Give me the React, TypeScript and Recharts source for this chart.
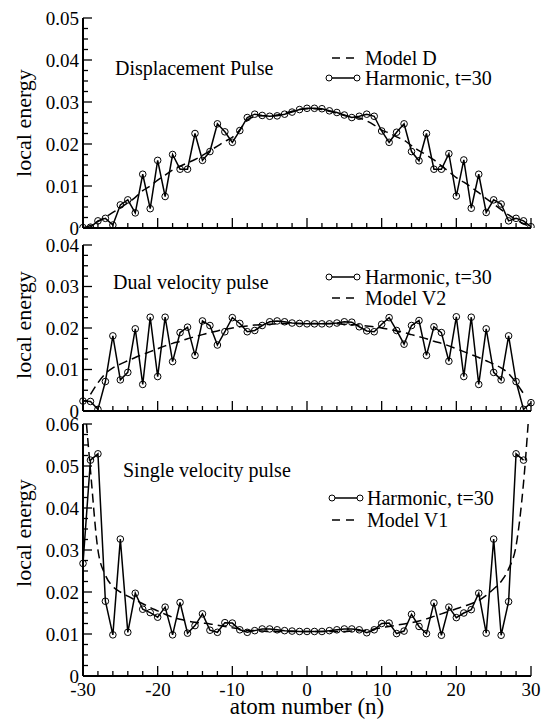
import { useState } from 'react';
import { createPortal } from 'react-dom';
import { Line, LineChart, XAxis, YAxis } from 'recharts';

const atomNumbers = [
  -30, -29, -28, -27, -26, -25, -24, -23, -22, -21, -20, -19, -18, -17, -16, -15, -14, -13, -12, -11, -10,
  -9, -8, -7, -6, -5, -4, -3, -2, -1, 0, 1, 2, 3, 4, 5, 6, 7, 8, 9, 10, 11, 12, 13, 14, 15, 16, 17, 18, 19,
  20, 21, 22, 23, 24, 25, 26, 27, 28, 29, 30,
];

// displacement pulse
const harmonicD = [
  0.0001, 0.0002, 0.0017, 0.0023, 0.0007, 0.0055, 0.0067, 0.0036, 0.0128, 0.0046, 0.0161, 0.0075, 0.0175,
  0.014, 0.014, 0.0225, 0.0161, 0.0182, 0.0248, 0.0229, 0.0204, 0.0232, 0.0263, 0.0271, 0.0268, 0.0266,
  0.0267, 0.0271, 0.0276, 0.0282, 0.0285, 0.0285, 0.0284, 0.0279, 0.0275, 0.0269, 0.0263, 0.0266, 0.0271,
  0.0266, 0.0231, 0.0204, 0.0228, 0.0248, 0.0182, 0.016, 0.0225, 0.014, 0.014, 0.0177, 0.0076, 0.0162,
  0.0047, 0.0128, 0.0037, 0.0067, 0.0057, 0.0017, 0.0023, 0.0017, 0.0003,
];
const modelD = [
  0.0, 0.0006, 0.0015, 0.0026, 0.0037, 0.0048, 0.006, 0.0073, 0.0089, 0.01, 0.0114, 0.0126, 0.0138, 0.0147,
  0.0155, 0.0163, 0.0173, 0.0184, 0.0195, 0.0206, 0.0216, 0.0234, 0.0257, 0.0265, 0.0267, 0.0267, 0.0269,
  0.0273, 0.0278, 0.0282, 0.0284, 0.0284, 0.0282, 0.0278, 0.0273, 0.0268, 0.0264, 0.0262, 0.0255, 0.0245,
  0.0233, 0.0226, 0.0217, 0.0209, 0.0196, 0.0184, 0.0174, 0.0162, 0.0148, 0.0134, 0.012, 0.0109, 0.0097,
  0.0084, 0.007, 0.0057, 0.0044, 0.0031, 0.002, 0.001, 0.0003,
];

// dual velocity pulse
const harmonicV2 = [
  0.0024, 0.0023, 0.0004, 0.0071, 0.0181, 0.0075, 0.0093, 0.0198, 0.0064, 0.0226, 0.0083, 0.0226, 0.0119,
  0.0189, 0.0202, 0.0134, 0.0217, 0.0206, 0.0159, 0.0191, 0.0225, 0.0211, 0.0191, 0.0194, 0.0206, 0.0215,
  0.0217, 0.0215, 0.0212, 0.0211, 0.021, 0.021, 0.021, 0.021, 0.0212, 0.0215, 0.0214, 0.0203, 0.0193,
  0.0191, 0.0209, 0.0225, 0.0194, 0.0161, 0.0206, 0.0218, 0.0134, 0.0203, 0.0189, 0.012, 0.0227, 0.0083,
  0.0226, 0.0064, 0.0198, 0.0093, 0.0075, 0.0181, 0.0071, 0.0004, 0.002,
];
const modelV2 = [
  null, 0.004, 0.0068, 0.009, 0.0104, 0.0113, 0.0121, 0.0129, 0.0136, 0.0143, 0.015, 0.0157, 0.0163,
  0.0168, 0.0174, 0.0179, 0.0184, 0.0189, 0.0193, 0.0197, 0.02, 0.0203, 0.0205, 0.0207, 0.0208, 0.0209,
  0.021, 0.0211, 0.0211, 0.0211, 0.0211, 0.0211, 0.0211, 0.0211, 0.021, 0.0209, 0.0208, 0.0207, 0.0205,
  0.0203, 0.02, 0.0197, 0.0193, 0.0189, 0.0184, 0.0179, 0.0174, 0.0168, 0.0163, 0.0157, 0.015, 0.0143,
  0.0136, 0.0129, 0.0121, 0.0113, 0.0104, 0.009, 0.0068, 0.0042, null,
];

// single velocity pulse
const harmonicV1 = [
  0.0268, 0.0514, 0.0529, 0.0178, 0.0098, 0.0326, 0.0104, 0.0197, 0.0159, 0.0151, 0.014, 0.0164, 0.0098,
  0.0175, 0.0102, 0.012, 0.0148, 0.0109, 0.0104, 0.0127, 0.0126, 0.011, 0.0104, 0.0108, 0.0112, 0.0112,
  0.011, 0.0108, 0.0107, 0.0106, 0.0106, 0.0106, 0.0106, 0.0108, 0.011, 0.0112, 0.0112, 0.011, 0.0103,
  0.011, 0.0125, 0.0126, 0.0101, 0.0107, 0.0147, 0.0118, 0.0101, 0.0174, 0.0097, 0.0164, 0.0139, 0.015,
  0.0158, 0.0197, 0.0102, 0.0326, 0.0097, 0.0177, 0.0529, 0.0514, null,
];
const modelV1 = [
  0.07, 0.049, 0.03, 0.024, 0.0213, 0.02, 0.019, 0.0181, 0.0172, 0.0163, 0.0155, 0.0147, 0.014, 0.0135,
  0.0131, 0.0128, 0.0126, 0.0124, 0.0121, 0.0118, 0.0115, 0.0112, 0.0109, 0.0108, 0.0107, 0.0106, 0.0106,
  0.0106, 0.0106, 0.0106, 0.0106, 0.0106, 0.0106, 0.0106, 0.0106, 0.0106, 0.0107, 0.0108, 0.0109, 0.0112,
  0.0115, 0.0118, 0.0121, 0.0124, 0.0127, 0.0131, 0.0136, 0.0142, 0.0148, 0.0154, 0.016, 0.0166, 0.0172,
  0.018, 0.0192, 0.0207, 0.0225, 0.0255, 0.031, 0.046, 0.07,
];

const xTicks = [
  -30, -28, -26, -24, -22, -20, -18, -16, -14, -12, -10, -8, -6, -4, -2, 0, 2, 4, 6, 8, 10, 12, 14, 16, 18,
  20, 22, 24, 26, 28, 30,
];
const yTicks04 = [
  0, 0.0025, 0.005, 0.0075, 0.01, 0.0125, 0.015, 0.0175, 0.02, 0.0225, 0.025, 0.0275, 0.03, 0.0325, 0.035,
  0.0375, 0.04,
];
const yTicks05 = [...yTicks04, 0.0425, 0.045, 0.0475, 0.05];
const yTicks06 = [...yTicks05, 0.0525, 0.055, 0.0575, 0.06];

// serif only survives up to 16px here, so text is set at 16px and scaled up
const FONT = "'Liberation Serif', 'Times New Roman', serif";
const BASE = 16;
const W = 546;
const LEFT = 83;
const RIGHT = 531;

const build = (a: (number | null)[], b: (number | null)[]) =>
  atomNumbers.map((n, i) => ({ n, harmonic: a[i], model: b[i] }));

const isMajorY = (v: number) => Math.abs(v * 100 - Math.round(v * 100)) < 1e-6;
const isMajorX = (v: number) => v % 10 === 0;
const fmtY = (v: number) => (v === 0 ? '0' : v.toFixed(2));

type Anchor = 'start' | 'middle' | 'end';

function Txt({
  x,
  y,
  size = 20,
  anchor = 'start',
  w = 220,
  rotate,
  children,
}: {
  x: number;
  y: number;
  size?: number;
  anchor?: Anchor;
  w?: number;
  rotate?: boolean;
  children: React.ReactNode;
}) {
  const h = Math.round(size * 1.1);
  const k = size / BASE;
  const left = anchor === 'start' ? x : anchor === 'end' ? x - w : x - w / 2;
  const align = anchor === 'start' ? 'left' : anchor === 'end' ? 'right' : 'center';
  return (
    <div
      style={{
        position: 'absolute',
        left,
        top: y - h / 2,
        width: w,
        height: h,
        transform: rotate ? 'rotate(-90deg)' : undefined,
      }}
    >
      <div
        style={{
          width: w / k,
          height: h / k,
          lineHeight: `${h / k}px`,
          fontFamily: FONT,
          fontSize: BASE,
          textAlign: align,
          whiteSpace: 'nowrap',
          color: '#000',
          transform: `scale(${k})`,
          transformOrigin: 'left top',
        }}
      >
        {children}
      </div>
    </div>
  );
}

type TickProps = { x?: number; y?: number; payload?: { value: number }; host: HTMLDivElement | null; top: number };

function LeftTick({ x = 0, y = 0, payload, host, top }: TickProps) {
  const v = payload?.value ?? 0;
  const major = isMajorY(v);
  return (
    <g>
      <line x1={x} x2={x + (major ? 9 : 5)} y1={y} y2={y} stroke="#000" strokeWidth={1.3} />
      {major &&
        host &&
        createPortal(
          <Txt x={x - 4} y={top + y} size={19} anchor="end" w={60}>
            {fmtY(v)}
          </Txt>,
          host,
        )}
    </g>
  );
}

function RightTick({ x = 0, y = 0, payload }: TickProps) {
  const major = isMajorY(payload?.value ?? 0);
  return <line x1={x} x2={x - (major ? 9 : 5)} y1={y} y2={y} stroke="#000" strokeWidth={1.3} />;
}

function TopTick({ x = 0, y = 0, payload }: TickProps) {
  const major = isMajorX(payload?.value ?? 1);
  return <line x1={x} x2={x} y1={y} y2={y + (major ? 10 : 5)} stroke="#000" strokeWidth={1.3} />;
}

function BottomTick({ x = 0, y = 0, payload, host, top, labels }: TickProps & { labels?: boolean }) {
  const v = payload?.value ?? 1;
  const major = isMajorX(v);
  return (
    <g>
      <line x1={x} x2={x} y1={y} y2={y - (major ? 10 : 5)} stroke="#000" strokeWidth={1.3} />
      {labels &&
        major &&
        host &&
        createPortal(
          <Txt x={x} y={top + y + 13} size={19} anchor="middle" w={60}>
            {v}
          </Txt>,
          host,
        )}
    </g>
  );
}

const frame = { stroke: '#000', strokeWidth: 2 };

function HarmonicSample({ x, y }: { x: number; y: number }) {
  return (
    <g>
      <line x1={x} x2={x + 28} y1={y} y2={y} stroke="#000" strokeWidth={1.5} />
      <circle cx={x} cy={y} r={3} fill="#fff" stroke="#000" strokeWidth={1} />
      <circle cx={x + 28} cy={y} r={3} fill="#fff" stroke="#000" strokeWidth={1} />
    </g>
  );
}

function ModelSample({ x, y }: { x: number; y: number }) {
  return <line x1={x} x2={x + 22} y1={y} y2={y} stroke="#000" strokeWidth={1.5} strokeDasharray="8 6" />;
}

type PanelProps = {
  top: number;
  height: number;
  marginTop: number;
  bottomHeight: number;
  yMax: number;
  yTicks: number[];
  data: { n: number; harmonic: number | null; model: number | null }[];
  host: HTMLDivElement | null;
  xLabels?: boolean;
  children?: React.ReactNode;
};

function Panel({ top, height, marginTop, bottomHeight, yMax, yTicks, data, host, xLabels, children }: PanelProps) {
  return (
    <div style={{ position: 'absolute', left: 0, top }}>
      <LineChart
        width={W}
        height={height}
        data={data}
        margin={{ top: marginTop, right: W - RIGHT, bottom: 0, left: 0 }}
      >
        <XAxis
          dataKey="n"
          type="number"
          domain={[-30, 30]}
          ticks={xTicks}
          interval={0}
          height={bottomHeight}
          axisLine={frame}
          tickLine={false}
          tickSize={0}
          tickMargin={0}
          tick={<BottomTick host={host} top={top} labels={xLabels} />}
        />
        <XAxis
          xAxisId="top"
          orientation="top"
          dataKey="n"
          type="number"
          domain={[-30, 30]}
          ticks={xTicks}
          interval={0}
          height={0}
          axisLine={frame}
          tickLine={false}
          tickSize={0}
          tickMargin={0}
          tick={<TopTick host={host} top={top} />}
        />
        <YAxis
          type="number"
          domain={[0, yMax]}
          allowDataOverflow
          ticks={yTicks}
          interval={0}
          width={LEFT}
          axisLine={frame}
          tickLine={false}
          tickSize={0}
          tickMargin={0}
          tick={<LeftTick host={host} top={top} />}
        />
        <YAxis
          yAxisId="right"
          orientation="right"
          type="number"
          domain={[0, yMax]}
          allowDataOverflow
          ticks={yTicks}
          interval={0}
          width={0}
          axisLine={frame}
          tickLine={false}
          tickSize={0}
          tickMargin={0}
          tick={<RightTick host={host} top={top} />}
        />
        <Line
          dataKey="model"
          type="monotone"
          stroke="#000"
          strokeWidth={1.5}
          strokeDasharray="9 5"
          dot={false}
          isAnimationActive={false}
        />
        <Line
          dataKey="harmonic"
          type="linear"
          stroke="#000"
          strokeWidth={1.5}
          dot={{ r: 3.3, stroke: '#000', strokeWidth: 1, fill: 'none' }}
          isAnimationActive={false}
        />
        {children}
      </LineChart>
    </div>
  );
}

export default function App() {
  const [host, setHost] = useState<HTMLDivElement | null>(null);
  return (
    <div style={{ position: 'absolute', left: 0, top: 0, width: W, height: 719, background: '#fff', overflow: 'hidden' }}>
      <Panel top={0} height={240} marginTop={18} bottomHeight={12} yMax={0.05} yTicks={yTicks05} data={build(harmonicD, modelD)} host={host}>
        <ModelSample x={332} y={58} />
        <HarmonicSample x={329} y={78} />
      </Panel>
      <Panel top={232} height={190} marginTop={13} bottomHeight={11} yMax={0.04} yTicks={yTicks04} data={build(harmonicV2, modelV2)} host={host}>
        <HarmonicSample x={329} y={45} />
        <ModelSample x={332} y={66} />
      </Panel>
      <Panel top={414} height={305} marginTop={10} bottomHeight={43} yMax={0.06} yTicks={yTicks06} data={build(harmonicV1, modelV1)} host={host} xLabels>
        <HarmonicSample x={332} y={84} />
        <ModelSample x={332} y={106} />
      </Panel>
      <div ref={setHost} style={{ position: 'absolute', left: 0, top: 0, width: W, height: 719, pointerEvents: 'none' }}>
        <Txt x={24} y={123} size={22} anchor="middle" w={160} rotate>local energy</Txt>
        <Txt x={24} y={325} size={22} anchor="middle" w={160} rotate>local energy</Txt>
        <Txt x={24} y={533} size={22} anchor="middle" w={160} rotate>local energy</Txt>
        <Txt x={115} y={68}>Displacement Pulse</Txt>
        <Txt x={365} y={58}>Model D</Txt>
        <Txt x={365} y={78}>Harmonic, t=30</Txt>
        <Txt x={113} y={282}>Dual velocity pulse</Txt>
        <Txt x={365} y={277}>Harmonic, t=30</Txt>
        <Txt x={365} y={298}>Model V2</Txt>
        <Txt x={123} y={470}>Single velocity pulse</Txt>
        <Txt x={367} y={498}>Harmonic, t=30</Txt>
        <Txt x={367} y={520}>Model V1</Txt>
        <Txt x={307} y={706} size={23} anchor="middle">atom number (n)</Txt>
      </div>
    </div>
  );
}
